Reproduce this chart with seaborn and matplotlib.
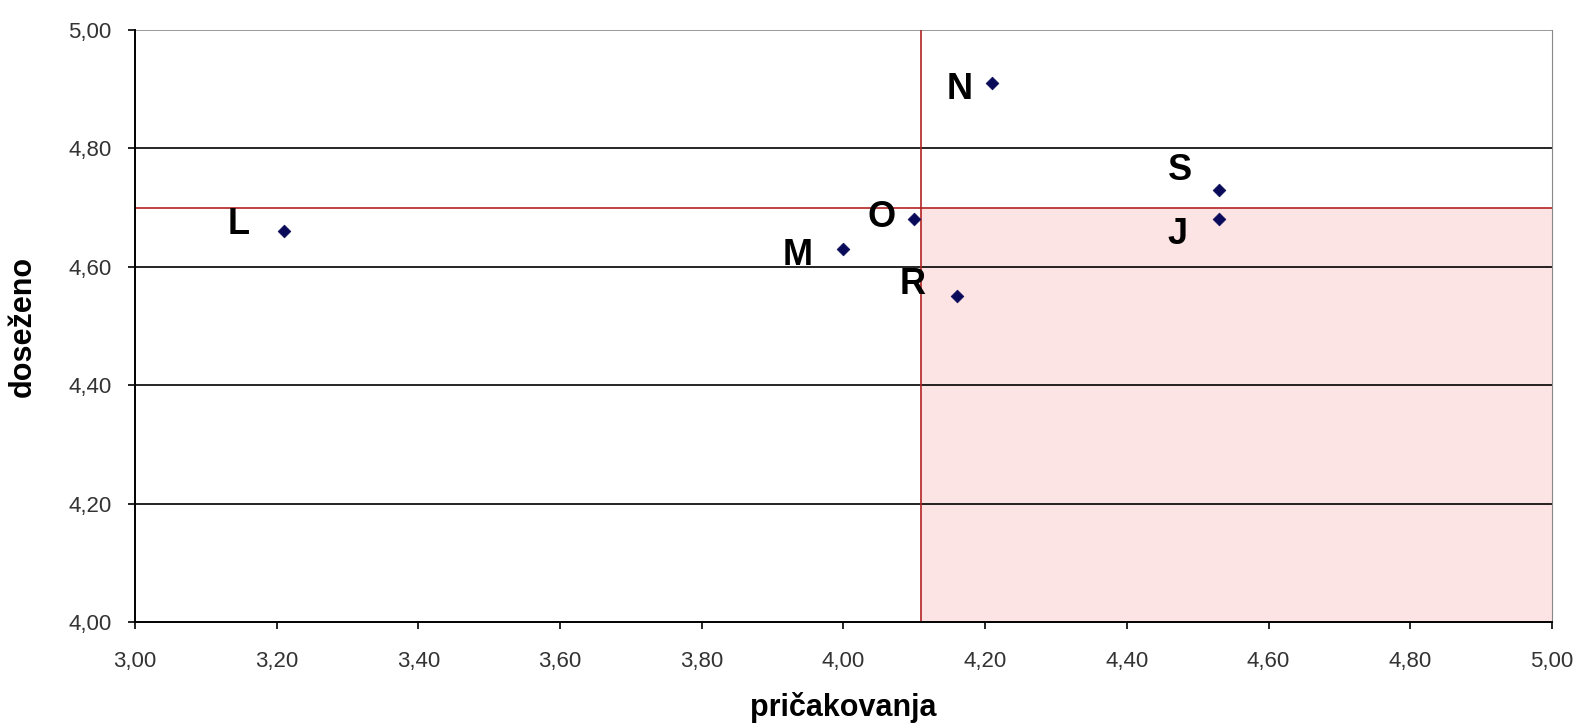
import pandas as pd
import seaborn as sns
import matplotlib.pyplot as plt
from matplotlib.ticker import FuncFormatter

labels = ['L', 'M', 'O', 'N', 'S', 'J', 'R']
pricakovanja = [3.21, 4.00, 4.10, 4.21, 4.53, 4.53, 4.16]
dosezeno = [4.66, 4.63, 4.68, 4.91, 4.73, 4.68, 4.55]
# label offsets (pixels) relative to each point
offsets = [(-45, 7), (-46, -6), (-33, 2), (-33, -6), (-39, 19), (-41, -15), (-44, 12)]

x_line = 4.11
y_line = 4.70

df = pd.DataFrame({'pricakovanja': pricakovanja, 'dosezeno': dosezeno, 'label': labels})

sns.set_style('white')
plt.rcParams['font.family'] = ['Liberation Sans', 'DejaVu Sans']

fig = plt.figure(figsize=(15.82, 7.28), dpi=100)
ax = fig.add_axes([0.0853, 0.1456, 0.8957, 0.8132])

# shaded quadrant
ax.fill_between([x_line, 5.0], 4.0, y_line, color='#fde4e4', zorder=0, linewidth=0)

# horizontal gridlines
for yv in [4.2, 4.4, 4.6, 4.8]:
    ax.axhline(yv, color='black', linewidth=1.2, zorder=1)
ax.axhline(5.0, color='#888888', linewidth=1.2, zorder=1)

ax.axvline(x_line, color='#b22222', linewidth=1.2, zorder=2)
ax.axhline(y_line, color='#b22222', linewidth=1.2, zorder=2)

sns.scatterplot(data=df, x='pricakovanja', y='dosezeno', marker='D', s=42,
                color='#0a0a5a', edgecolor='#0a0a5a', ax=ax, zorder=3)

for lab, xv, yv, (dx, dy) in zip(labels, pricakovanja, dosezeno, offsets):
    ax.annotate(lab, (xv, yv), xytext=(dx, dy), textcoords='offset pixels',
                ha='center', va='center', fontsize=26, fontweight='bold', color='black')

ax.set_xlim(3.0, 5.0)
ax.set_ylim(4.0, 5.0)
ax.set_xticks([3.0 + 0.2 * i for i in range(11)])
ax.set_yticks([4.0 + 0.2 * i for i in range(6)])
fmt = FuncFormatter(lambda v, p: f'{v:.2f}'.replace('.', ','))
ax.xaxis.set_major_formatter(fmt)
ax.yaxis.set_major_formatter(fmt)
ax.tick_params(axis='both', direction='out', length=5, width=1.2, colors='black',
               labelsize=16, labelcolor='#333333', bottom=True, left=True)
ax.tick_params(axis='x', pad=16)
ax.tick_params(axis='y', pad=12)

for side in ['left', 'bottom']:
    ax.spines[side].set_color('black')
    ax.spines[side].set_linewidth(1.4)
ax.spines['right'].set_color('#888888')
ax.spines['top'].set_visible(False)

ax.set_xlabel('pričakovanja', fontsize=22, fontweight='bold', labelpad=14, color='black')
ax.set_ylabel('doseženo', fontsize=22, fontweight='bold', labelpad=22, color='black')

fig.savefig('out.png', dpi=100)
